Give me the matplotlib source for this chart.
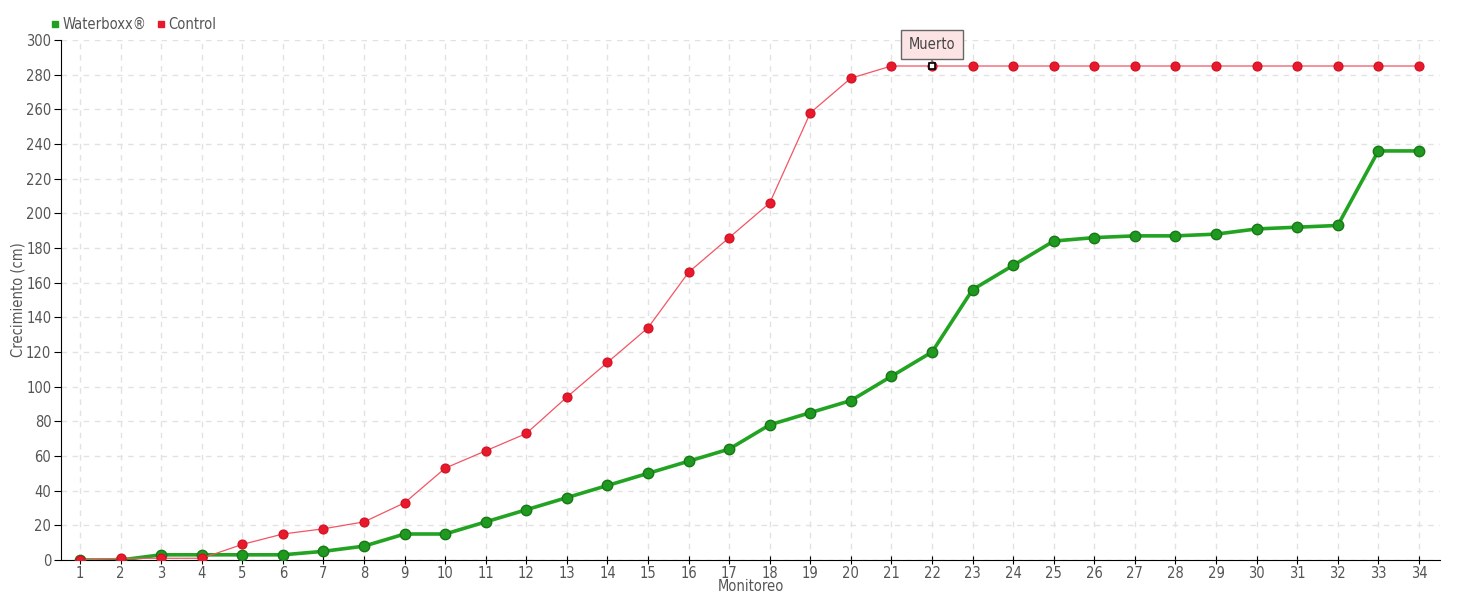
import numpy as np
import matplotlib
matplotlib.use('Agg')
from matplotlib import pyplot as plt

monitoreo = list(range(1, 35))
waterboxx = [0, 0, 3, 3, 3, 3, 5, 8, 15, 15, 22, 29, 36, 43, 50, 57, 64, 78, 85, 92,
             106, 120, 156, 170, 184, 186, 187, 187, 188, 191, 192, 193, 236, 236]
control = [0, 1, 1, 1, 9, 15, 18, 22, 33, 53, 63, 73, 94, 114, 134, 166, 186, 206, 258, 278,
           285, 285, 285, 285, 285, 285, 285, 285, 285, 285, 285, 285, 285, 285]
muerto_idx = 21   # monitoreo 22

plt.rcParams['font.family'] = ['DejaVu Sans']
plt.rcParams['font.stretch'] = 'condensed'
txt = '#555555'
fs = 10.5

fig = plt.figure(figsize=(14.6, 6), dpi=100)
ax = fig.add_axes([61 / 1460, 40 / 600, 1379 / 1460, 520 / 600])

ax.plot(monitoreo, waterboxx, color='#22a322', lw=2.6, marker='o', ms=7.5,
        mfc='#1f991f', mec='#167816', mew=1, zorder=3, label='Waterboxx®')
ax.plot(monitoreo, control, color='#f25563', lw=0.9, marker='o', ms=6.5,
        mfc='#e8192c', mec='#d01020', mew=0.8, zorder=4, label='Control')

# dead point marker + tooltip
ax.plot(monitoreo[muerto_idx], control[muerto_idx], marker='s', ms=4.5, mfc='white',
        mec='black', mew=1.2, zorder=5)
ax.annotate('Muerto', (monitoreo[muerto_idx], control[muerto_idx]),
            xytext=(0, 15.5), textcoords='offset points', ha='center', va='center',
            fontsize=fs, color='#444444',
            bbox=dict(boxstyle='square,pad=0.5', fc='#fde4e4', ec='#666666', lw=1),
            arrowprops=dict(arrowstyle='-', color='#666666', lw=1, shrinkA=0, shrinkB=3),
            zorder=6)

ax.set_xlim(0.53, 34.52)
ax.set_ylim(0, 300)
ax.set_xticks(monitoreo)
ax.set_yticks(np.arange(0, 301, 20))
ax.grid(True, color='#e2e2e2', ls=(0, (4, 4)), lw=1)
ax.set_axisbelow(True)

for s in ['top', 'right']:
    ax.spines[s].set_visible(False)
ax.spines['left'].set_color('black')
ax.spines['bottom'].set_color('black')
ax.tick_params(axis='y', direction='out', length=5, labelsize=fs, labelcolor=txt, pad=2)
ax.tick_params(axis='x', direction='inout', length=6, labelsize=fs, labelcolor=txt, pad=1)

ax.set_xlabel('Monitoreo', fontsize=fs, color=txt)
ax.set_ylabel('Crecimiento (cm)', fontsize=fs, color=txt)
ax.xaxis.set_label_coords(0.5, -0.037)
ax.yaxis.set_label_coords(-0.026, 0.5)

leg = fig.legend(handles=[
    plt.Line2D([], [], ls='none', marker='s', ms=5, color='#1fa01f', label='Waterboxx®'),
    plt.Line2D([], [], ls='none', marker='s', ms=5, color='#e8192c', label='Control')],
    loc='upper left', bbox_to_anchor=(42 / 1460, 1 - 11 / 600), ncol=2, frameon=False,
    fontsize=fs, handletextpad=0.0, columnspacing=0.5, handlelength=1.0, borderaxespad=0)
for t in leg.get_texts():
    t.set_color(txt)

fig.savefig('out.png', dpi=100)
